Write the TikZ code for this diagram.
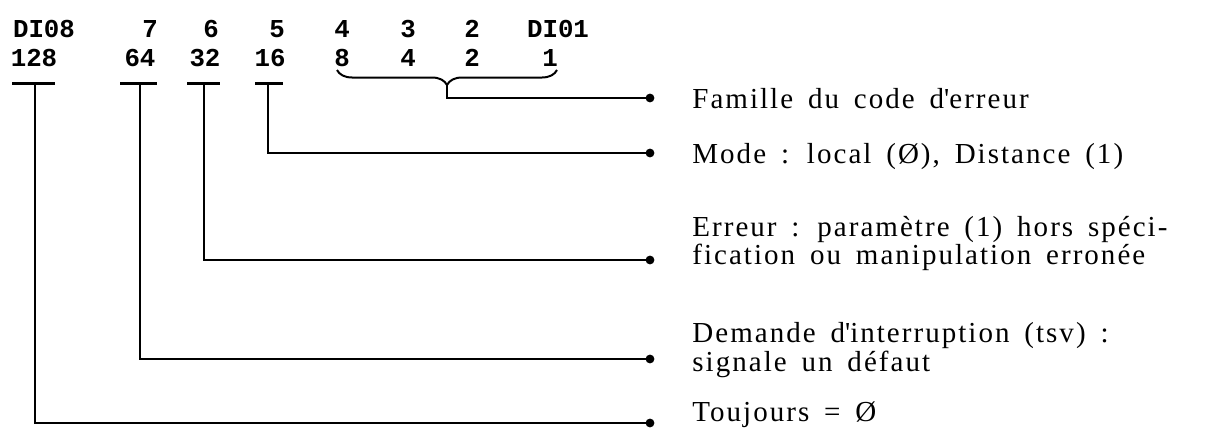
\documentclass[tikz,border=0pt]{standalone}
\usepackage{fontspec}
\setmainfont{Liberation Serif}[LetterSpace=7,WordSpace=1.6]
\newfontfamily\bitfont{Liberation Mono}
\usetikzlibrary{decorations.pathreplacing}
\tikzset{
  bit/.style={font=\bitfont\bfseries\fontsize{12.9}{14}\selectfont, anchor=base, inner sep=0pt},
  lbl/.style={font=\fontsize{14.5}{15}\selectfont, anchor=base west, inner sep=0pt},
  wire/.style={line width=1.3pt},
  tee/.style={line width=1.5pt},
}
\begin{document}
\begin{tikzpicture}[x=0.5pt,y=-0.5pt]
\useasboundingbox (0,0) rectangle (1210,428);
%%%% bit numbers
\node[bit] (n8) at (44,37) {DI08};
\node[bit] (n7) at (150,37) {7};
\node[bit] (n6) at (211,37) {6};
\node[bit] (n5) at (277,37) {5};
\node[bit] (n4) at (342,37) {4};
\node[bit] (n3) at (408,37) {3};
\node[bit] (n2) at (472,37) {2};
\node[bit] (n1) at (558,37) {DI01};
%%%% weights
\node[bit] (v128) at (34,66) {128};
\node[bit] (v64) at (140,66) {64};
\node[bit] (v32) at (205,66) {32};
\node[bit] (v16) at (270,66) {16};
\node[bit] (v8) at (342,66) {8};
\node[bit] (v4) at (408,66) {4};
\node[bit] (v2) at (472,66) {2};
\node[bit] (v1) at (550,66) {1};
%%%% tees under the weights
\coordinate (t128) at (35,83);
\coordinate (t64) at (140,83);
\coordinate (t32) at (204,83);
\coordinate (t16) at (268,83);
\draw[tee] (t128) +(-23,0) -- +(20,0);
\draw[tee] (t64) +(-20,0) -- +(17,0);
\draw[tee] (t32) +(-17,0) -- +(16,0);
\draw[tee] (t16) +(-13,0) -- +(15,0);
%%%% brace over the low bits
\draw[wire, line width=1pt, decorate, decoration={brace, mirror, amplitude=7.5pt}] (337,70) -- (557,70);
\coordinate (tip) at (447,85);
%%%% end points
\coordinate (efam) at (650,98);
\coordinate (emode) at (650,153);
\coordinate (eerr) at (650,260);
\coordinate (edem) at (650,359);
\coordinate (etou) at (650,423);
\draw[wire] (tip) |- (efam);
\draw[wire] (t16) |- (emode);
\draw[wire] (t32) |- (eerr);
\draw[wire] (t64) |- (edem);
\draw[wire] (t128) |- (etou);
\foreach \e in {efam,emode,eerr,edem,etou}
  \fill (\e) circle [radius=2.2pt];
%%%% texts
\node[lbl] (fam) at (692,108) {Famille du code d\textquotesingle erreur};
\node[lbl] (mode) at (692,163) {Mode : local (Ø), Distance (1)};
\node[lbl] (err) at (692,236) {Erreur : paramètre (1) hors spéci-};
\node[lbl] (err2) at (692,264) {fication ou manipulation erronée};
\node[lbl] (dem) at (692,342) {Demande d\textquotesingle interruption (tsv) :};
\node[lbl] (dem2) at (692,371) {signale un défaut};
\node[lbl] (tou) at (692,421) {Toujours = Ø};
\end{tikzpicture}
\end{document}
